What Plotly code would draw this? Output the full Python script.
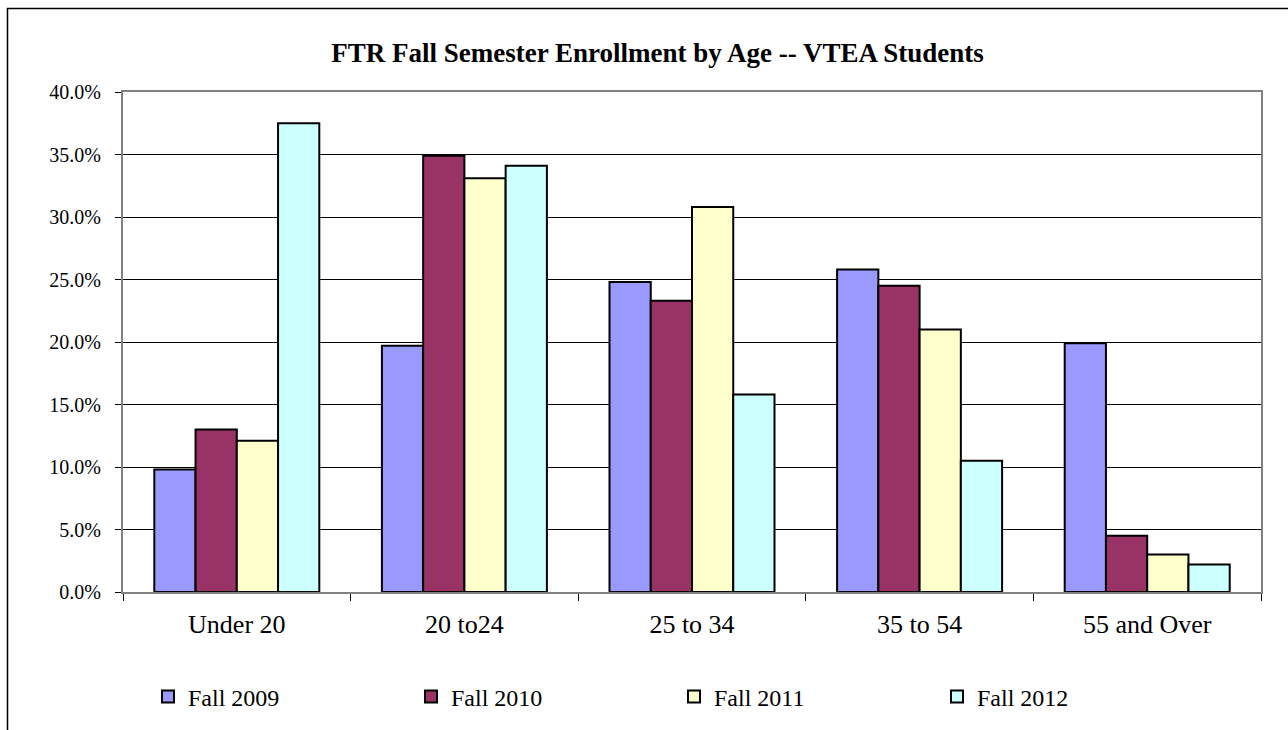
import plotly.graph_objects as go

categories = ["Under 20", "20 to24", "25 to 34", "35 to 54", "55 and Over"]
series_names = ["Fall 2009", "Fall 2010", "Fall 2011", "Fall 2012"]
fall_2009 = [9.8, 19.7, 24.8, 25.8, 19.9]
fall_2010 = [13.0, 34.9, 23.3, 24.5, 4.5]
fall_2011 = [12.1, 33.1, 30.8, 21.0, 3.0]
fall_2012 = [37.5, 34.1, 15.8, 10.5, 2.2]
colors = ["#9999FF", "#993366", "#FFFFCC", "#CCFFFF"]
y_ticks = [0, 5, 10, 15, 20, 25, 30, 35, 40]
y_tick_labels = ["0.0%", "5.0%", "10.0%", "15.0%", "20.0%", "25.0%", "30.0%", "35.0%", "40.0%"]

FONT = "Liberation Serif"

fig = go.Figure()
for name, vals, col in zip(series_names, [fall_2009, fall_2010, fall_2011, fall_2012], colors):
    fig.add_trace(go.Bar(
        name=name, x=categories, y=vals,
        marker=dict(color=col, line=dict(color="black", width=2)),
    ))

W, H = 1288, 730
L, R, T, B = 123, 1261, 92, 592
pw, ph = R - L, B - T

fig.update_layout(
    width=W, height=H,
    margin=dict(l=L, r=W - R, t=T, b=H - B, autoexpand=False),
    paper_bgcolor="white", plot_bgcolor="white",
    barmode="group", bargap=0.275, bargroupgap=0,
    font=dict(family=FONT, color="black"),
    title=dict(
        text="<b>FTR Fall Semester Enrollment by Age -- VTEA Students</b>",
        font=dict(family=FONT, size=27, color="black"),
        x=657.5 / W, xanchor="center", xref="container",
        y=1 - 53 / H, yanchor="middle", yref="container",
    ),
    showlegend=True,
    legend=dict(
        orientation="h", x=(148 - L) / pw, xanchor="left",
        y=(B - 697) / ph, yanchor="middle",
        font=dict(family=FONT, size=24, color="black"),
        entrywidth=218, entrywidthmode="pixels",
        itemwidth=30, traceorder="normal",
        bgcolor="rgba(0,0,0,0)",
    ),
    xaxis=dict(
        type="category", categoryorder="array", categoryarray=categories,
        showline=True, linecolor="#808080", linewidth=2, mirror=True,
        ticks="outside", tickson="boundaries", ticklen=7, tickcolor="black", tickwidth=1,
        ticklabelstandoff=8,
        showgrid=False, tickfont=dict(family=FONT, size=26, color="black"),
    ),
    yaxis=dict(
        range=[0, 40], tickvals=y_ticks, ticktext=y_tick_labels,
        showline=True, linecolor="#808080", linewidth=2, mirror=True,
        ticks="outside", ticklen=6, tickcolor="black", tickwidth=1,
        ticklabelstandoff=10,
        showgrid=True, gridcolor="black", gridwidth=1, zeroline=False,
        tickfont=dict(family=FONT, size=20, color="black"),
    ),
    shapes=[dict(
        type="rect", xref="paper", yref="paper",
        x0=(7.5 - L) / pw, x1=(1300 - L) / pw,
        y0=(B - 740) / ph, y1=(B - 8.5) / ph,
        line=dict(color="black", width=1.5), fillcolor="rgba(0,0,0,0)", layer="below",
    )],
)

fig.write_html(
    "out.html",
    config={"displayModeBar": False},
    post_script="document.body.style.margin='0';document.body.style.overflow='hidden';",
)
